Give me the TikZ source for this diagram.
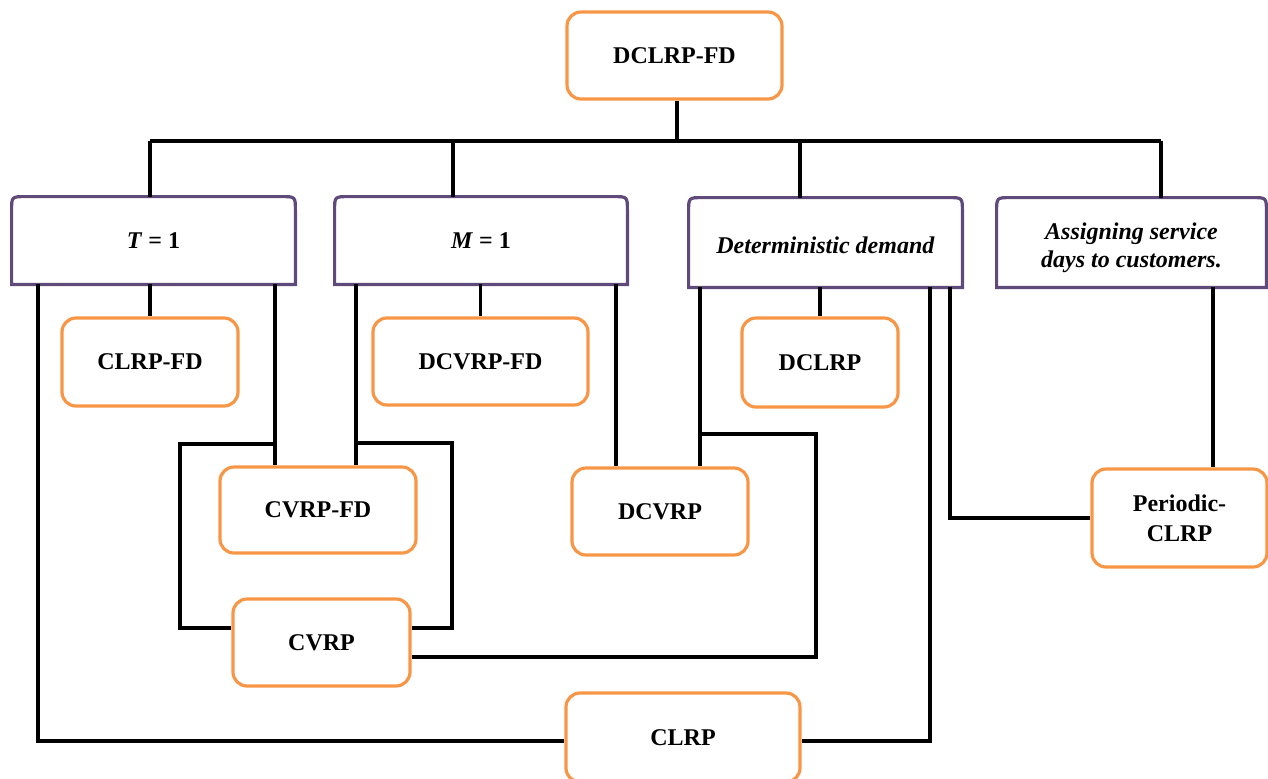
\documentclass[tikz,border=0pt]{standalone}
\usepackage{fontspec}
\setmainfont{Liberation Serif}
\definecolor{orng}{HTML}{F79646}
\definecolor{purp}{HTML}{604A7B}
\newcommand\purpbox[1]{%
  \draw[pline] (#1.south west) -- ([yshift=-7pt]#1.north west)
    .. controls (#1.north west) .. ([xshift=7pt]#1.north west)
    -- ([xshift=-7pt]#1.north east)
    .. controls (#1.north east) .. ([yshift=-7pt]#1.north east)
    -- (#1.south east) -- cycle;}
\begin{document}
\begin{tikzpicture}[x=0.5pt,y=-0.5pt,
  txt/.style={align=center, inner sep=0pt, font=\fontsize{12}{14}\selectfont\bfseries},
  obox/.style={txt, draw=orng, line width=1.6pt, rounded corners=7pt},
  pbox/.style={txt},
  pline/.style={draw=purp, line width=1.6pt},
  conn/.style={draw=black, line width=1.9pt}]
\useasboundingbox (0,0) rectangle (1268,778);
% boxes
\node[obox, minimum width=107.5pt, minimum height=43.5pt] (DCLRPFD) at (674.5,55.5) {DCLRP-FD};
\node[pbox, minimum width=141.5pt, minimum height=43.5pt] (T) at (153.5,240.5) {\textit{T} = 1};
\node[pbox, minimum width=146pt, minimum height=43.5pt] (M) at (481,240.5) {\textit{M} = 1};
\node[pbox, minimum width=136.5pt, minimum height=44.5pt,
  label={[txt, yshift=-1.5pt]center:\textit{Deterministic demand}}] (D) at (825.5,242.5) {};
\node[pbox, minimum width=134.5pt, minimum height=44.5pt,
  label={[txt, yshift=-2.5pt]center:{\itshape Assigning service\\\itshape days to customers.}}] (A) at (1131.5,242.5) {};
\node[obox, minimum width=88pt, minimum height=44pt] (CLRPFD) at (150,362) {CLRP-FD};
\node[obox, minimum width=107.5pt, minimum height=43.5pt] (DCVRPFD) at (480.5,361.5) {DCVRP-FD};
\node[obox, minimum width=78pt, minimum height=44.5pt] (DCLRP) at (820,362.5) {DCLRP};
\node[obox, minimum width=98pt, minimum height=43pt] (CVRPFD) at (318,510) {CVRP-FD};
\node[obox, minimum width=88pt, minimum height=43.5pt] (DCVRP) at (660,511.5) {DCVRP};
\node[obox, minimum width=87.5pt, minimum height=49pt, font=\fontsize{12}{15}\selectfont\bfseries] (PCLRP) at (1179.5,518) {Periodic-\\CLRP};
\node[obox, minimum width=88.5pt, minimum height=43.5pt] (CVRP) at (321.5,642.5) {CVRP};
\node[obox, minimum width=117pt, minimum height=44.5pt] (CLRP) at (683,737.5) {CLRP};
\purpbox{T}
\purpbox{M}
\purpbox{D}
\purpbox{A}
% bus
\coordinate (b0) at (677,141);
\coordinate (bT) at (150,141);
\coordinate (bM) at (453,141);
\coordinate (bD) at (800,141);
\coordinate (bA) at (1161,141);
\draw[conn] (DCLRPFD.south -| b0) -- (b0);
\draw[conn] (bT) -- (bA);
\draw[conn] (bT) -- (T.north -| bT);
\draw[conn] (bM) -- (M.north -| bM);
\draw[conn] (bD) -- (D.north -| bD);
\draw[conn] (bA) -- (A.north -| bA);
% from T = 1
\coordinate (tl) at (38,741);
\coordinate (tr) at (275,444);
\draw[conn] (T.south -| tl) -- (tl) -- (CLRP.west |- tl);
\draw[conn] (T.south -| CLRPFD.north) -- (CLRPFD.north);
\draw[conn] (T.south -| tr) -- (CVRPFD.north -| tr);
% left loop CVRP-FD -> CVRP
\coordinate (l1) at (180,444);
\coordinate (l2) at (180,628);
\draw[conn] (tr) -- (l1) -- (l2) -- (CVRP.west |- l2);
% from M = 1
\coordinate (ml) at (356,443);
\coordinate (mr) at (616,300);
\draw[conn] (M.south -| ml) -- (CVRPFD.north -| ml);
\draw[conn] (M.south -| DCVRPFD.north) -- (DCVRPFD.north);
\draw[conn] (M.south -| mr) -- (DCVRP.north -| mr);
% right loop
\coordinate (r1) at (452,443);
\coordinate (r2) at (452,628);
\draw[conn] (ml) -- (r1) -- (r2) -- (CVRP.east |- r2);
% from deterministic demand
\coordinate (dl) at (700,434);
\coordinate (d1) at (816,434);
\coordinate (d2) at (816,657);
\draw[conn] (D.south -| dl) -- (DCVRP.north -| dl);
\draw[conn] (D.south -| DCLRP.north) -- (DCLRP.north);
\draw[conn] (dl) -- (d1) -- (d2) -- (CVRP.east |- d2);
\coordinate (dc) at (930,741);
\draw[conn] (D.south -| dc) -- (dc) -- (CLRP.east |- dc);
\coordinate (dp) at (950,518);
\draw[conn] (D.south -| dp) -- (dp) -- (PCLRP.west |- dp);
% from assigning
\coordinate (ap) at (1213,400);
\draw[conn] (A.south -| ap) -- (PCLRP.north -| ap);
\end{tikzpicture}
\end{document}
